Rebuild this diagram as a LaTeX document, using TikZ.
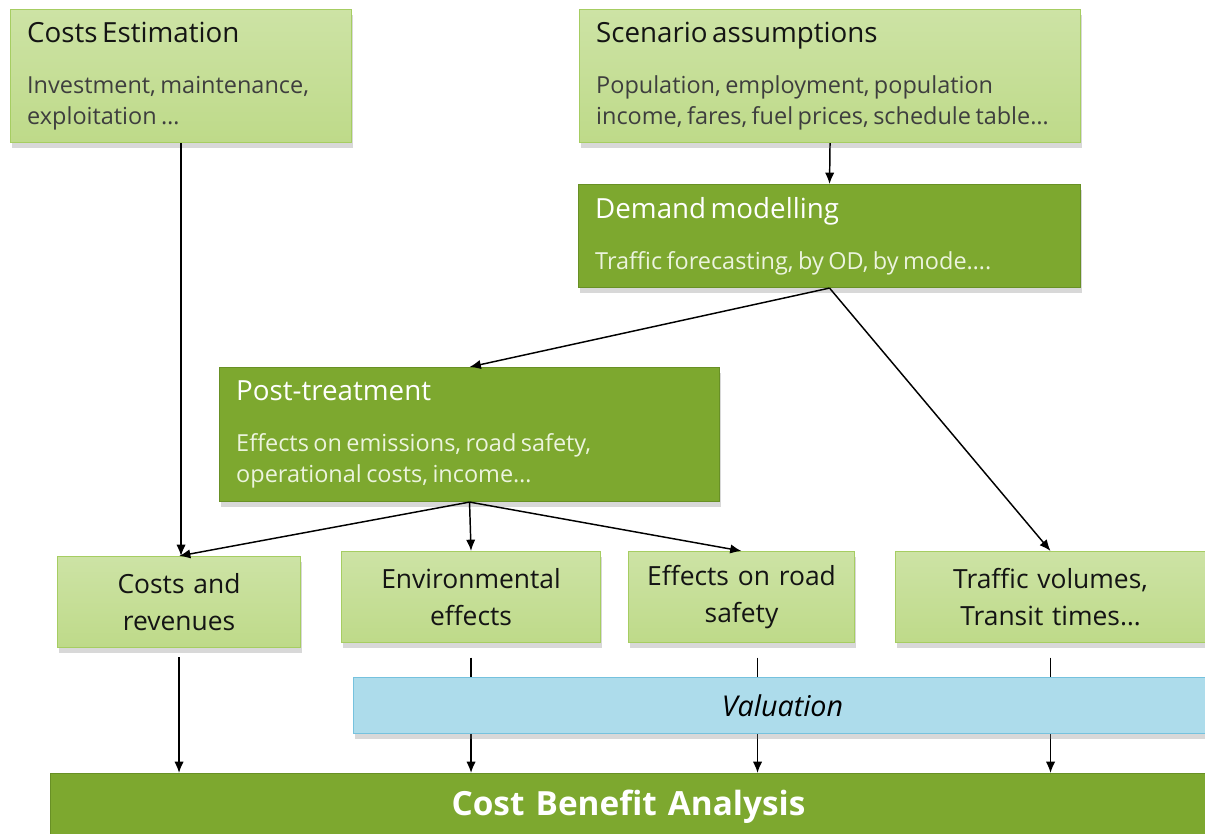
\documentclass[tikz,border=0pt]{standalone}
\usepackage{fontspec}
\setmainfont{Open Sans}
\usetikzlibrary{arrows.meta,shadows}

\definecolor{palegreen}{RGB}{205,227,165}
\definecolor{palegreenlow}{RGB}{190,218,137}
\definecolor{paleedge}{RGB}{166,205,98}
\definecolor{leafgreen}{RGB}{125,168,47}
\definecolor{leafedge}{RGB}{104,144,37}
\definecolor{skyblue}{RGB}{173,220,235}
\definecolor{skyedge}{RGB}{118,194,222}
\definecolor{inkgray}{RGB}{20,20,20}
\definecolor{bodygray}{RGB}{62,62,62}
\definecolor{palewhite}{RGB}{236,244,222}

% title and body of an upper box
\newcommand{\headtext}[1]{\fontsize{20.8}{23.25}\selectfont #1\\[15pt]}
\newcommand{\bodytext}{\fontsize{17.6}{23.25}\selectfont}

\begin{document}
\begin{tikzpicture}[x=0.75pt, y=-0.75pt, line width=1.1pt, >={Latex[length=8.5pt,width=7pt]}]
	\tikzstyle{every node} = [anchor=north west, rectangle, inner xsep=12.5pt, inner ysep=0pt, line width=0.8pt,
		drop shadow={shadow xshift=1pt, shadow yshift=-4pt, opacity=0.3}]
	\tikzstyle{lightbox} = [top color=palegreen, bottom color=palegreenlow, draw=paleedge, text=inkgray, align=left]
	\tikzstyle{darkbox} = [fill=leafgreen, draw=leafedge, text=white, align=left]
	\tikzstyle{effectbox} = [top color=palegreen, bottom color=palegreenlow, draw=paleedge, text=inkgray, align=center,
		inner xsep=0pt, minimum height=68.25pt, font=\fontsize{19.8}{27.75}\selectfont]
	\useasboundingbox (0,0) rectangle (1205,834);
	\fill [white] (0,0) rectangle (1205,834);
	\clip (0,0) rectangle (1205,834);

	\node [lightbox, text width=230.75pt, minimum height=99.75pt] (Costs) at (10,9)
		{\headtext{Costs Estimation}\bodytext\color{bodygray}Investment, maintenance,\\exploitation \dots\par};
	\node [lightbox, text width=350.75pt, minimum height=99.75pt] (Scenario) at (579,9)
		{\headtext{Scenario assumptions}\bodytext\color{bodygray}Population, employment, population\\income, fares, fuel prices, schedule table\dots\par};
	\node [darkbox, text width=351.5pt, minimum height=77.25pt] (Demand) at (578,184)
		{\headtext{Demand modelling}\bodytext\color{palewhite}Traffic forecasting, by OD, by mode\dots.\par};
	\node [darkbox, text width=350pt, minimum height=100.5pt] (Post) at (219,367)
		{\headtext{Post-treatment}\bodytext\color{palewhite}Effects on emissions, road safety,\\operational costs, income\dots\par};

	\node [effectbox, text width=182.25pt] (Revenues) at (57,556) {Costs and\\revenues};
	\node [effectbox, text width=194.25pt] (Environment) at (341,551) {Environmental\\effects};
	\node [effectbox, text width=169.5pt] (Safety) at (628,551) {Effects on road\\safety};
	\node [effectbox, text width=232.5pt] (Traffic) at (895,551) {Traffic volumes,\\Transit times\dots};

	\node [fill=leafgreen, draw=leafedge, text=white, align=center, inner xsep=0pt, text width=867pt,
		minimum height=49.5pt, font=\fontsize{25}{29}\selectfont\bfseries] (CBA) at (50,773) {Cost Benefit Analysis};

	\draw [->] (Costs.south) -- (Costs.south |- Revenues.north);
	\draw [->] (Scenario.south) -- (Demand.north);
	\draw [->] (Demand.south) -- (Post.north);
	\draw [->] (Demand.south) -- (Traffic.north);
	\draw [->] (Post.south) -- (Revenues.north);
	\draw [->] (Post.south) -- (Environment.north);
	\draw [->] (Post.south) -- (Safety.north);
	\draw [->, shorten <=7pt] (Revenues.south) -- (Revenues.south |- CBA.north);
	\draw [->, shorten <=11pt] (Environment.south) -- (Environment.south |- CBA.north);
	\draw [->, shorten <=11pt] ([xshift=12pt]Safety.south) -- ([xshift=12pt]Safety.south |- CBA.north);
	\draw [->, shorten <=11pt] (Traffic.south) -- (Traffic.south |- CBA.north);

	% drawn last so that it covers the lines
	\node [fill=skyblue, draw=skyedge, align=center, inner xsep=0pt, text width=643.5pt, minimum height=42pt,
		font=\fontsize{21.5}{25}\selectfont\itshape] (Valuation) at (353,677) {Valuation};
\end{tikzpicture}
\end{document}
